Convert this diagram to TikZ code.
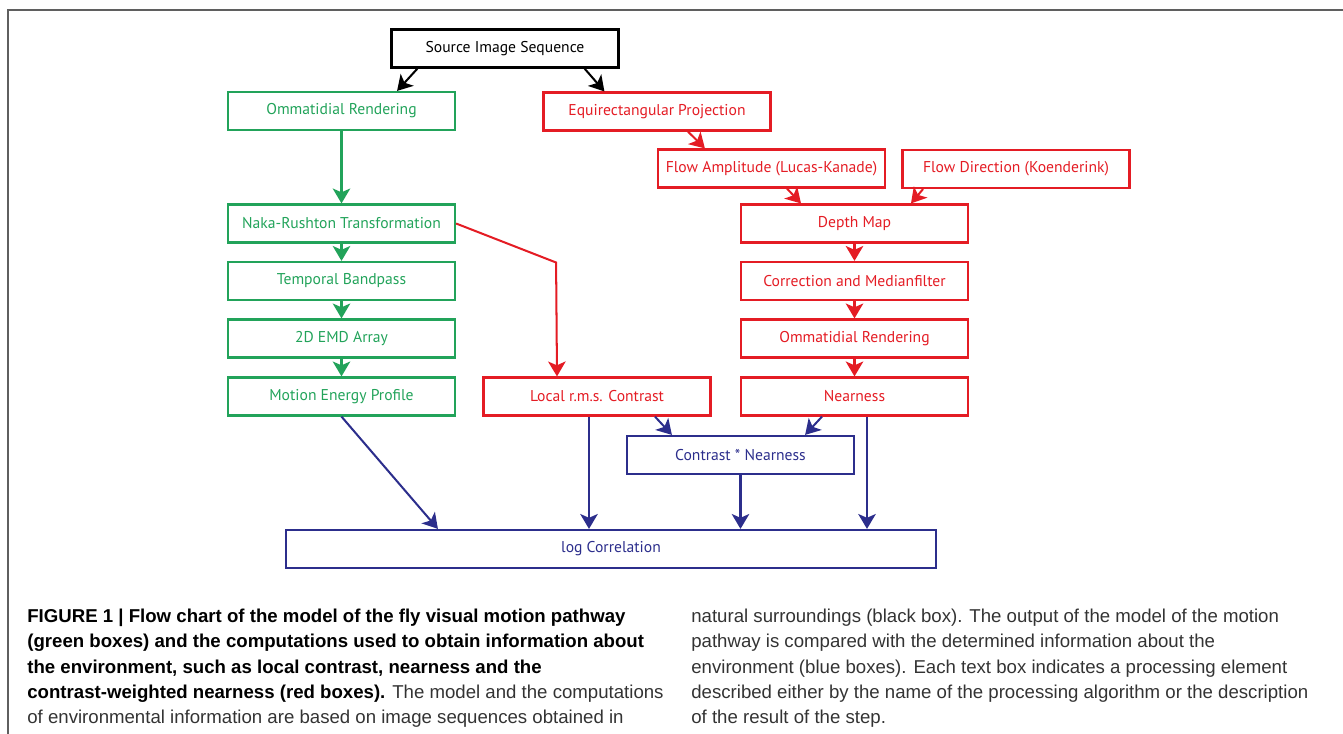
\documentclass[tikz,border=0pt]{standalone}
\usepackage{fontspec}
\setmainfont{PT Sans}
\newfontfamily\capfont{Liberation Sans}
\usetikzlibrary{
    arrows.meta,
    positioning
}
\definecolor{flygreen}{RGB}{34,163,90}
\definecolor{envred}{RGB}{228,28,36}
\definecolor{cmpblue}{RGB}{44,46,140}
\definecolor{framegray}{RGB}{95,95,95}

\begin{document}
\begin{tikzpicture}[
        x=0.02cm, y=-0.02cm,
        box/.style={rectangle, draw, line width=1.25pt, minimum width=4.54cm, minimum height=0.76cm, inner sep=0pt, align=center, font=\fontsize{8.9}{11}\selectfont},
        srcbox/.style={box, draw=black, text=black},
        greenbox/.style={box, draw=flygreen, text=flygreen},
        redbox/.style={box, draw=envred, text=envred},
        bluebox/.style={box, draw=cmpblue, text=cmpblue},
        arrow/.style={-{Stealth[length=8.5pt, width=10pt, inset=2.2pt]}, line width=1.15pt},
        caption/.style={inner sep=0pt, align=left, text=black!80, font=\capfont\fontsize{10.6}{14.3}\selectfont}
    ]
        \useasboundingbox (0,0) rectangle (1343,734);
        \draw[framegray, line width=1pt] (8,734) -- (8,10) -- (1343,10);

        \node[srcbox] (src) at (505,48.5) {Source Image Sequence};

        % motion pathway
        \node[greenbox] (ommG) at (341.5,111) {Ommatidial Rendering};
        \node[greenbox] (naka) at (341.5,223.5) {Naka-Rushton Transformation};
        \node[greenbox] (bandpass) at (341.5,281) {Temporal Bandpass};
        \node[greenbox] (emd) at (341.5,338.5) {2D EMD Array};
        \node[greenbox] (motion) at (341.5,396.5) {Motion Energy Profile};

        % environment
        \node[redbox] (equi) at (657,111.5) {Equirectangular Projection};
        \node[redbox] (flowAmp) at (771.5,168.5) {Flow Amplitude (Lucas-Kanade)};
        \node[redbox] (flowDir) at (1016,169) {Flow Direction (Koenderink)};
        \node[redbox] (depth) at (854.5,223.5) {Depth Map};
        \node[redbox] (corr) at (854.5,281) {Correction and Medianfilter};
        \node[redbox] (ommR) at (854.5,338.5) {Ommatidial Rendering};
        \node[redbox] (near) at (854.5,396.5) {Nearness};
        \node[redbox] (local) at (597,396.5) {Local r.m.s. Contrast};

        % comparison
        \node[bluebox] (cxn) at (740.5,455) {Contrast * Nearness};
        \node[bluebox, minimum width=13cm] (logc) at (611,549) {log Correlation};

        \draw[arrow, black] ([xshift=0.54cm]src.south west) -- ([xshift=-1.18cm]ommG.north east);
        \draw[arrow, black] ([xshift=-0.70cm]src.south east) -- ([xshift=1.24cm]equi.north west);

        \draw[arrow, flygreen] (ommG) -- (naka);
        \draw[arrow, flygreen] (naka) -- (bandpass);
        \draw[arrow, flygreen] (bandpass) -- (emd);
        \draw[arrow, flygreen] (emd) -- (motion);

        \draw[arrow, envred] ([xshift=0.62cm]equi.south) -- ([xshift=0.96cm]flowAmp.north west);
        \draw[arrow, envred] ([xshift=0.31cm]flowAmp.south) -- ([xshift=-1.07cm]depth.north);
        \draw[arrow, envred] ([xshift=-1.86cm]flowDir.south) -- ([xshift=1.13cm]depth.north);
        \draw[arrow, envred] (depth) -- (corr);
        \draw[arrow, envred] (corr) -- (ommR);
        \draw[arrow, envred] (ommR) -- (near);
        \draw[arrow, envred] (naka.east) -- ++(100,39) -- ([xshift=-0.8cm]local.north);

        \draw[arrow, cmpblue] ([xshift=1.16cm]local.south) -- ([xshift=0.92cm]cxn.north west);
        \draw[arrow, cmpblue] ([xshift=-0.65cm]near.south) -- ([xshift=-1.0cm]cxn.north east);
        \draw[arrow, cmpblue] (motion.south) -- ([xshift=3.06cm]logc.north west);
        \draw[arrow, cmpblue] ([xshift=-0.16cm]local.south) -- ([xshift=-0.16cm]local.south |- logc.north);
        \draw[arrow, cmpblue] (cxn.south) -- (cxn.south |- logc.north);
        \draw[arrow, cmpblue] ([xshift=0.25cm]near.south) -- ([xshift=0.25cm]near.south |- logc.north);

        \node[caption, anchor=north west] (capL) at (27,609) {\textbf{\color{black}FIGURE 1 | Flow chart of the model of the fly visual motion pathway}\\
            \textbf{\color{black}(green boxes) and the computations used to obtain information about}\\
            \textbf{\color{black}the environment, such as local contrast, nearness and the}\\
            \textbf{\color{black}contrast-weighted nearness (red boxes).} The model and the computations\\
            of environmental information are based on image sequences obtained in};
        \node[caption, anchor=north west] (capR) at (691,609) {natural surroundings (black box). The output of the model of the motion\\
            pathway is compared with the determined information about the\\
            environment (blue boxes). Each text box indicates a processing element\\
            described either by the name of the processing algorithm or the description\\
            of the result of the step.};
    \end{tikzpicture}
\end{document}
